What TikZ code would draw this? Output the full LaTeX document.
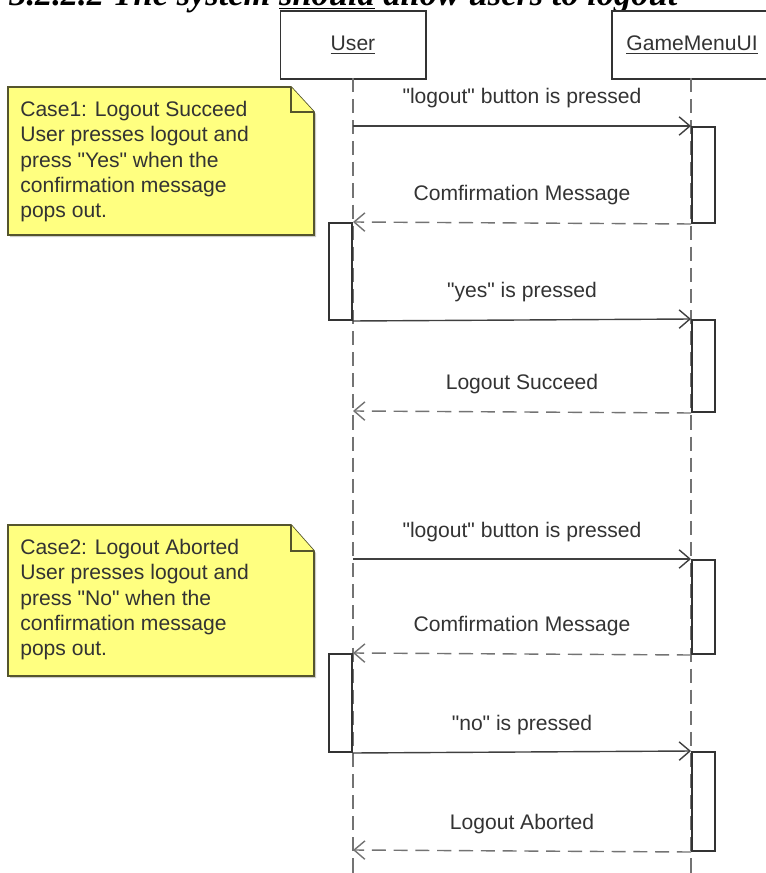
\documentclass[tikz,border=0pt]{standalone}
\usepackage{fontspec}
\setmainfont{Liberation Serif}
\newfontfamily\diagfont{Liberation Sans}
\usetikzlibrary{arrows.meta}
\definecolor{notefill}{RGB}{255,255,128}
\definecolor{noteline}{RGB}{85,85,45}

\begin{document}
\begin{tikzpicture}[x=0.025cm,y=-0.025cm,
  font=\diagfont\fontsize{15}{18}\selectfont,
  head/.style={draw=black!80, line width=1.4pt, fill=white, minimum width=#1, minimum height=1.7cm, inner sep=0pt, text=black!80},
  bar/.style={draw=black!80, line width=1.4pt, fill=white, minimum width=0.575cm, minimum height=#1, inner sep=0pt},
  lifeline/.style={draw=black!55, line width=1pt, dash pattern=on 10pt off 5pt},
  call/.style={draw=black!75, line width=1pt, -{Straight Barb[length=2.7mm,width=4.6mm]}},
  reply/.style={call, draw=black!55, dash pattern=on 10pt off 5.5pt},
  msg/.style={anchor=base, yshift=5.5mm, text=black!80},
  note/.style={draw=noteline, line width=1.2pt, fill=notefill},
  notetext/.style={anchor=north west, align=left, inner sep=0pt, text=black!80}]
\useasboundingbox (0,0) rectangle (766,873);
\clip (0,0) rectangle (766,873);
% title, cut off at the top
\node [anchor=base west, inner sep=0pt, font=\rmfamily\bfseries\itshape\fontsize{24.5}{28}\selectfont] (title) at (9,6)
  {3.2.2.2 The system \underline{should} allow users to logout};
% lifelines
\node [head=3.625cm] (user) at (353,45) {\underline{User}};
\node [head=4cm] (menu) at (692,45) {\underline{GameMenuUI}};
\coordinate (userend) at (353,873);
\coordinate (menuend) at (691,873);
\draw [lifeline] (353,78) -- (userend);
\draw [lifeline] (691,78) -- (menuend);
% case 1
\fill [black!20] (10,89) -- (293,89) -- (316,114) -- (316,237) -- (10,237) -- cycle;
\draw [note] (8,87) -- (291,87) -- (314,112) -- (314,235) -- (8,235) -- cycle;
\draw [note] (291,87) -- (291,112) -- (314,112);
\node [notetext] (case1) at (20,101) {Case1: Logout Succeed\\User presses logout and\\press "Yes" when the\\confirmation message\\pops out.};
\coordinate (u1) at (353,126);
\coordinate (u4) at (353,411);
\node [bar=2.4cm, anchor=north west] (g1) at (691,126) {};
\node [bar=2.425cm, anchor=north east] (a1) at (353,222) {};
\node [bar=2.3cm, anchor=north west] (g2) at (691,319) {};
\draw [call] (u1) -- node [msg] {"logout" button is pressed} (g1.north west);
\draw [reply] (g1.south west) -- node [msg] {Comfirmation Message} (a1.north east);
\draw [call] (a1.south east) -- node [msg] {"yes" is pressed} (g2.north west);
\draw [reply] (g2.south west) -- node [msg] {Logout Succeed} (u4);
% case 2
\fill [black!20] (10,527) -- (293,527) -- (316,553) -- (316,678) -- (10,678) -- cycle;
\draw [note] (8,525) -- (291,525) -- (314,551) -- (314,676) -- (8,676) -- cycle;
\draw [note] (291,525) -- (291,551) -- (314,551);
\node [notetext] (case2) at (20,539) {Case2: Logout Aborted\\User presses logout and\\press "No" when the\\confirmation message\\pops out.};
\coordinate (u5) at (353,559);
\coordinate (u8) at (353,850);
\node [bar=2.35cm, anchor=north west] (g3) at (691,559) {};
\node [bar=2.45cm, anchor=north east] (a2) at (353,653) {};
\node [bar=2.475cm, anchor=north west] (g4) at (691,751) {};
\draw [call] (u5) -- node [msg] {"logout" button is pressed} (g3.north west);
\draw [reply] (g3.south west) -- node [msg] {Comfirmation Message} (a2.north east);
\draw [call] (a2.south east) -- node [msg] {"no" is pressed} (g4.north west);
\draw [reply] (g4.south west) -- node [msg] {Logout Aborted} (u8);
\end{tikzpicture}
\end{document}
